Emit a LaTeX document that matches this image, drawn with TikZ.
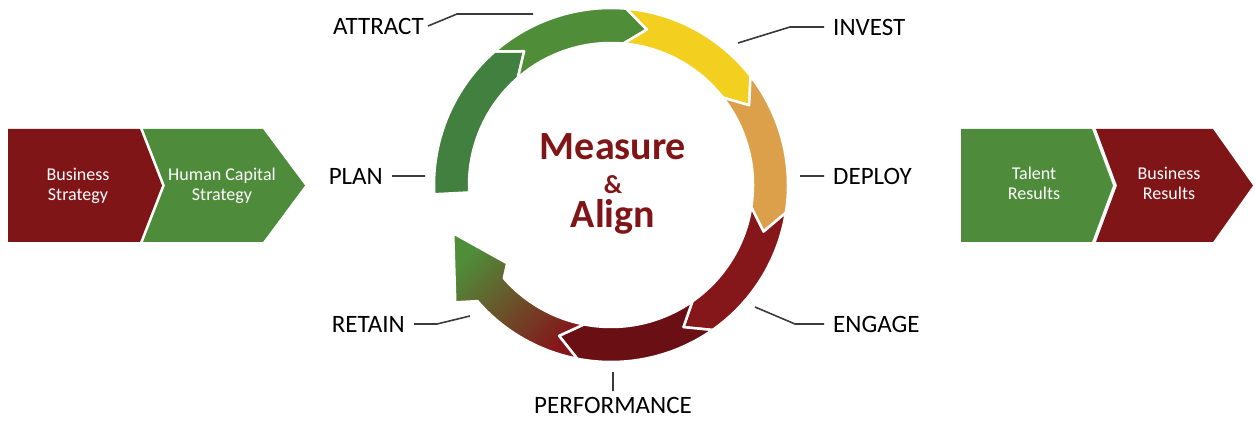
\documentclass[tikz,border=0pt]{standalone}
\usepackage{fontspec}
\setmainfont{Carlito}
\usepackage{tikz}

\definecolor{bizred}{HTML}{7F1517}
\definecolor{hcgreen}{HTML}{4E8C3C}
\definecolor{plangreen}{HTML}{41803F}
\definecolor{attractgreen}{HTML}{4F8D39}
\definecolor{investyellow}{HTML}{F3D020}
\definecolor{deployorange}{HTML}{DDA04A}
\definecolor{engagered}{HTML}{85161A}
\definecolor{perfred}{HTML}{6A0F13}
\definecolor{leadergray}{HTML}{3A3A3A}

\newcommand{\ringout}{177}
\newcommand{\ringin}{142}
\newcommand{\ringmid}{159.5}

% chevron: colour, left x, right x, tip depth, notch depth
\newcommand{\chevron}[5]{%
  \fill[#1] (#2,-129) -- (#3,-129) -- ({#3+#4},-185.5) -- (#3,-242)
    -- (#2,-242) -- ({#2+#5},-185.5) -- cycle;}

% ring piece: colour, tail angle, head angle
\newcommand{\ringpiece}[3]{%
  \filldraw[fill=#1, ringedge] (#2:\ringout)
    arc[start angle=#2, end angle=#3, radius=\ringout]
    -- ({#3-8}:\ringmid) -- (#3:\ringin)
    arc[start angle=#3, end angle=#2, radius=\ringin]
    -- ({#2-8}:\ringmid) -- cycle;}

\begin{document}
\begin{tikzpicture}[x=1pt, y=1pt,
    lbl/.style={font=\fontsize{25}{30}\selectfont, inner xsep=9pt, inner ysep=2pt},
    leader/.style={draw=leadergray, line width=1.6pt},
    ringedge/.style={draw=white, line width=2.5pt, line join=round},
    chevtext/.style={font=\fontsize{18}{20}\selectfont, text=white, align=center},
    hub/.style={font=\bfseries\fontsize{40}{34}\selectfont, text=bizred, align=center}]
  \useasboundingbox (0,0) rectangle (1255,-430);

  \chevron{bizred}{8}{140}{22}{0}
  \chevron{hcgreen}{143}{263}{42}{22}
  \chevron{hcgreen}{961}{1092}{21}{0}
  \chevron{bizred}{1096}{1213}{40}{21}

  \node[chevtext] (bizstrat) at (78,-186)   {Business\\Strategy};
  \node[chevtext] (hcstrat)  at (222,-186)  {Human Capital\\Strategy};
  \node[chevtext] (talent)   at (1034,-183) {Talent\\Results};
  \node[chevtext] (bizres)   at (1169,-183) {Business\\Results};

  \begin{scope}[shift={(611,-185)}]
    \filldraw[fill=plangreen, ringedge] (183:\ringout)
      arc[start angle=183, end angle=131, radius=\ringout]
      -- (123:\ringmid) -- (131:\ringin)
      arc[start angle=131, end angle=183, radius=\ringin] -- cycle;
    \ringpiece{attractgreen}{131}{85}
    \ringpiece{investyellow}{85}{38}
    \ringpiece{deployorange}{38}{-9}
    \ringpiece{engagered}{-9}{-55}
    \ringpiece{perfred}{-55}{-101}
    \shadedraw[ringedge, top color=attractgreen, bottom color=engagered,
               shading angle=45] (259:\ringout)
      arc[start angle=259, end angle=221, radius=\ringout]
      -- (217:195) -- (197:165) -- (217:130) -- (221:\ringin)
      arc[start angle=221, end angle=259, radius=\ringin]
      -- (251:\ringmid) -- cycle;
  \end{scope}

  \node[hub] (hub) at (613,-184) {Measure\\{\fontsize{26}{34}\selectfont\&}\\Align};

  \node[lbl, inner xsep=4pt, anchor=east] (attract) at (428,-26) {ATTRACT};
  \node[lbl, anchor=west] (invest)  at (824,-27)  {INVEST};
  \node[lbl, anchor=east] (plan)    at (392,-176) {PLAN};
  \node[lbl, anchor=west] (deploy)  at (824,-176) {DEPLOY};
  \node[lbl, anchor=east] (retain)  at (414,-324) {RETAIN};
  \node[lbl, anchor=west] (engage)  at (824,-324) {ENGAGE};
  \node[lbl, inner ysep=6pt, anchor=north] (performance) at (613,-391) {PERFORMANCE};

  \coordinate (attract-end) at (533,-14);
  \coordinate (invest-end)  at (738,-43);
  \coordinate (plan-end)    at (425,-176);
  \coordinate (deploy-end)  at (800,-176);
  \coordinate (retain-end)  at (470,-316);
  \coordinate (engage-end)  at (755,-307);
  \coordinate (perf-end)    at (613,-372);

  \path[leader] (attract.east) -- ++(29,12) -- (attract-end)
                (invest.west) -- ++(-34,0) -- (invest-end)
                (plan.east) -- (plan-end)
                (deploy.west) -- (deploy-end)
                (retain.east) -- ++(23,0) -- (retain-end)
                (engage.west) -- ++(-29,0) -- (engage-end)
                (performance.north) -- (perf-end);
\end{tikzpicture}
\end{document}
